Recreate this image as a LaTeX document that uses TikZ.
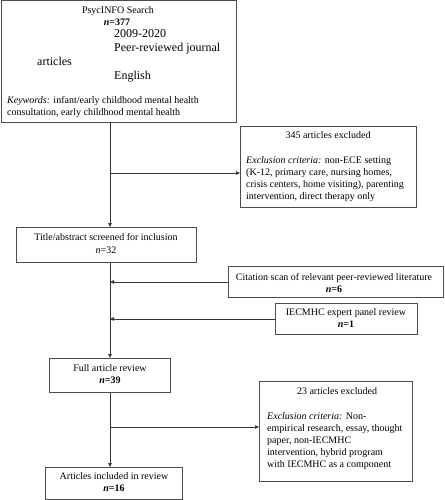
\documentclass[tikz,border=0pt]{standalone}
\usepackage{fontspec}
\setmainfont{Liberation Serif}
\usetikzlibrary{arrows.meta}
\begin{document}
\begin{tikzpicture}[x=1pt,y=-1pt,
 box/.style={draw=black!70, line width=0.9pt, anchor=north west, inner sep=0pt},
 txt/.style={anchor=base, inner sep=0pt, font=\fontsize{10}{12}\selectfont},
 ltxt/.style={anchor=base west, inner sep=0pt, font=\fontsize{10}{12}\selectfont},
 btxt/.style={anchor=base west, inner sep=0pt, font=\fontsize{12}{14}\selectfont},
 arr/.style={draw=black!80, line width=0.7pt, -{Triangle[length=4pt,width=3.5pt]}},
 ln/.style={draw=black!80, line width=0.7pt}]
\useasboundingbox (0,0) rectangle (444,500);

% boxes
\node[box, minimum width=235pt, minimum height=121pt] (search) at (0.5,0.5) {};
\node[box, minimum width=176pt, minimum height=81pt] (ex1) at (240,126) {};
\node[box, minimum width=180pt, minimum height=35pt] (title) at (16,227) {};
\node[box, minimum width=215pt, minimum height=31pt] (cite) at (228,266) {};
\node[box, minimum width=142pt, minimum height=31pt] (panel) at (275,303) {};
\node[box, minimum width=121pt, minimum height=34pt] (full) at (49,358) {};
\node[box, minimum width=153pt, minimum height=100pt] (ex2) at (259,381) {};
\node[box, minimum width=137pt, minimum height=32pt] (incl) at (45,467) {};

% texts: search box
\node[txt] (s1) at (118,14) {PsycINFO Search};
\node[txt] (s2) at (117,26) {\textbf{\textit{n}=377}};
\node[btxt] (s3) at (114,38) {2009-2020};
\node[btxt] (s4) at (114,52) {Peer-reviewed journal};
\node[btxt] (s5) at (37,66) {articles};
\node[btxt] (s6) at (114,80) {English};
\node[ltxt] (s7) at (7,103) {\textit{Keywords:} infant/early childhood mental health};
\node[ltxt] (s8) at (7,115) {consultation, early childhood mental health};

% exclusion 1
\node[txt] (e1) at (328,138) {345 articles excluded};
\node[ltxt] (e2) at (246,163) {\textit{Exclusion criteria:} non-ECE setting};
\node[ltxt] (e3) at (246,175) {(K-12, primary care, nursing homes,};
\node[ltxt] (e4) at (246,187) {crisis centers, home visiting), parenting};
\node[ltxt] (e5) at (246,199) {intervention, direct therapy only};

% title box
\node[txt] (t1) at (106,240) {Title/abstract screened for inclusion};
\node[txt] (t2) at (106,253) {\textit{n}=32};

% citation
\node[txt] (c1) at (334,280) {Citation scan of relevant peer-reviewed literature};
\node[txt] (c2) at (334,292) {\textbf{\textit{n}=6}};

% panel
\node[txt] (p1) at (346,315) {IECMHC expert panel review};
\node[txt] (p2) at (346,327) {\textbf{\textit{n}=1}};

% full
\node[txt] (f1) at (110,371) {Full article review};
\node[txt] (f2) at (110,383) {\textbf{\textit{n}=39}};

% exclusion 2
\node[txt] (x1) at (337,394) {23 articles excluded};
\node[ltxt] (x2) at (267,419) {\textit{Exclusion criteria:} Non-};
\node[ltxt] (x3) at (267,431) {empirical research, essay, thought};
\node[ltxt] (x4) at (267,443) {paper, non-IECMHC};
\node[ltxt] (x5) at (267,455) {intervention, hybrid program};
\node[ltxt] (x6) at (267,467) {with IECMHC as a component};

% included
\node[txt] (i1) at (114,479) {Articles included in review};
\node[txt] (i2) at (114,491) {\textbf{\textit{n}=16}};

% connectors
\coordinate (spine) at (110,0);
\coordinate (br1) at (110,173);
\coordinate (br2) at (110,427);
\draw[arr] (search.south -| spine) -- (title.north -| spine);
\draw[arr] (br1) -- (ex1.west |- br1);
\draw[arr] (cite.west) -- (cite.west -| spine);
\draw[arr] (panel.west) -- (panel.west -| spine);
\draw[arr] (title.south -| spine) -- (full.north -| spine);
\draw[arr] (br2) -- (ex2.west |- br2);
\draw[arr] (full.south -| spine) -- (incl.north -| spine);
\end{tikzpicture}
\end{document}
